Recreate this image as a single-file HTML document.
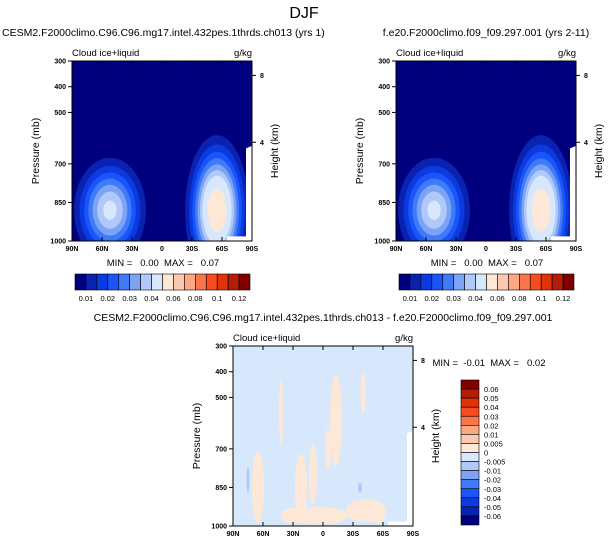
<!DOCTYPE html>
<html><head><meta charset="utf-8"><style>
body{margin:0;background:#fff}
svg{display:block;font-family:"Liberation Sans",sans-serif}
</style></head><body>
<svg id="chart" width="608" height="547" viewBox="0 0 608 547">
<text x="304" y="18" font-size="16" text-anchor="middle">DJF</text>
</svg>
<script>
// ---- data ----
const absLevels=[0.01,0.015,0.02,0.025,0.03,0.035,0.04,0.05,0.06,0.07,0.08,0.09,0.1,0.11,0.12];
const absColors=['#00007f','#0a22b0','#0a3ae0','#1a55fa','#3f7af8','#7da3f5','#b1c8fa','#d8e8fc','#fde8d8','#fdc8b0','#fba883','#f97648','#f84c1f','#e23308','#b31d08','#800000'];
const absTickLabels=['0.01','0.02','0.03','0.04','0.06','0.08','0.1','0.12'];
const diffLevels=[-0.06,-0.05,-0.04,-0.03,-0.02,-0.01,-0.005,0,0.005,0.01,0.02,0.03,0.04,0.05,0.06];
const diffLabels=['-0.06','-0.05','-0.04','-0.03','-0.02','-0.01','-0.005','0','0.005','0.01','0.02','0.03','0.04','0.05','0.06'];
// cloud blobs (gaussian): lat, pressure, peak, sigma-lat, sigma-p
const blobLat=[52,-55];
const blobP=[880,880];
const blobPeak=[0.042,0.058];
const blobSigLat=[30,24];
const blobSigP=[170,220];
// difference patches: lat, p, half-lat, half-p, value
const dLat=[42,22,10,-13,-40,65,-43,5,-55,75,-37,30,-5];
const dP=[560,850,800,590,480,850,940,960,950,820,850,960,700];
const dHalfLat=[2,6,4,6,2.5,6,20,30,8,1.5,2,12,3];
const dHalfP=[130,130,120,180,80,140,45,35,40,50,20,30,80];
const dVal=[0.003,0.003,0.003,0.003,0.003,0.003,0.003,0.003,0.003,-0.007,-0.007,0.003,0.003];
const xTicks=[90,60,30,0,-30,-60,-90];
const xTickLabels=['90N','60N','30N','0','30S','60S','90S'];
const pTicks=[300,400,500,700,850,1000];
const hTicks=[8,4];
const hTickP=[356,616];

const NS='http://www.w3.org/2000/svg';
const svg=document.getElementById('chart');
function el(t,a,p){const e=document.createElementNS(NS,t);for(const k in a)e.setAttribute(k,a[k]);(p||svg).appendChild(e);return e;}
function colorFor(v,levels,colors){let i=0;while(i<levels.length&&v>=levels[i])i++;return colors[i];}

function panel(x0,y0,title,tx,anchor,kind,id){
  const W=180,H=180;
  const X=lat=>x0+(90-lat)/180*W;
  const Y=p=>y0+(p-300)/700*H;
  const g=el('g',{});
  
  
  const t=el('text',{x:tx,y:y0-25,'font-size':10.5,'text-anchor':anchor},g);t.textContent=title;
  
  const cp=el('clipPath',{id:'c'+id},g);el('rect',{x:x0,y:y0,width:W,height:H},cp);
  const f=el('g',{'clip-path':'url(#c'+id+')'},g);
  if(kind==='abs'){
    el('rect',{x:x0,y:y0,width:W,height:H,fill:absColors[0]},f);
    for(let b=0;b<blobLat.length;b++){
      for(let li=0;li<absLevels.length;li++){
        const L=absLevels[li];if(L>=blobPeak[b])break;
        const r=Math.sqrt(Math.log(blobPeak[b]/L));
        const e=el('ellipse',{cx:X(blobLat[b]),cy:Y(blobP[b]),rx:r*blobSigLat[b]/180*W,ry:r*blobSigP[b]/700*H,fill:absColors[li+1]},f);
        
      }
    }
  }else{
    el('rect',{x:x0,y:y0,width:W,height:H,fill:'#d8e8fc'},f);
    for(let i=0;i<dLat.length;i++){
      const e=el('ellipse',{cx:X(dLat[i]),cy:Y(dP[i]),rx:dHalfLat[i]/180*W,ry:dHalfP[i]/700*H,fill:colorFor(dVal[i],diffLevels,absColors)},f);
      
    }
  }
  // missing data mask
  el('polygon',{points:[[X(-65),Y(1000)],[X(-65),Y(982)],[X(-84),Y(982)],[X(-84),Y(640)],[X(-90),Y(630)],[X(-90),Y(1000)]].map(a=>a.join(',')).join(' '),fill:'#fff'},f);
  el('rect',{x:x0,y:y0,width:W,height:H,fill:'none',stroke:'#000','stroke-width':1},g);
  let s=el('text',{x:x0,y:y0-5,'font-size':9.5},g);s.textContent='Cloud ice+liquid';
  s=el('text',{x:x0+W,y:y0-5,'font-size':9.5,'text-anchor':'end'},g);s.textContent='g/kg';
  xTicks.forEach((v,i)=>{el('line',{x1:X(v),x2:X(v),y1:y0+H,y2:y0+H-4,stroke:'#000'},g);el('line',{x1:X(v),x2:X(v),y1:y0,y2:y0+4,stroke:'#000'},g);
    const tt=el('text',{x:X(v),y:y0+H+10,'font-size':7,'text-anchor':'middle','font-weight':'bold'},g);tt.textContent=xTickLabels[i];});
  pTicks.forEach(v=>{el('line',{x1:x0-4,x2:x0,y1:Y(v),y2:Y(v),stroke:'#000'},g);
    const tt=el('text',{x:x0-6,y:Y(v)+2.5,'font-size':7,'text-anchor':'end','font-weight':'bold'},g);tt.textContent=v;});
  hTicks.forEach((v,i)=>{el('line',{x1:x0+W,x2:x0+W+4,y1:Y(hTickP[i]),y2:Y(hTickP[i]),stroke:'#000'},g);
    const tt=el('text',{x:x0+W+8,y:Y(hTickP[i])+2.5,'font-size':7,'font-weight':'bold'},g);tt.textContent=v;});
  s=el('text',{x:0,y:0,'font-size':10.5,'text-anchor':'middle',transform:`translate(${x0-33},${y0+H/2}) rotate(-90)`},g);s.textContent='Pressure (mb)';
  
  s=el('text',{x:0,y:0,'font-size':10.5,'text-anchor':'middle',transform:`translate(${x0+W+26},${y0+H/2}) rotate(-90)`},g);s.textContent='Height (km)';
  
  return g;
}
function hbar(x0,y0,id){
  const g=el('g',{});
  
  const w=175/absColors.length;
  absColors.forEach((c,i)=>el('rect',{x:x0+i*w,y:y0,width:w,height:16,fill:c,stroke:'#000','stroke-width':0.6},g));
  absTickLabels.forEach((l,k)=>{const t=el('text',{x:x0+(2*k+1)*w,y:y0+27,'font-size':7.5,'text-anchor':'middle'},g);t.textContent=l;});
}
function mm(x,y,s,id){const t=el('text',{x:x,y:y,'font-size':9.5,'text-anchor':'middle',style:'white-space:pre'});t.textContent=s;}

panel(72,61,'CESM2.F2000climo.C96.C96.mg17.intel.432pes.1thrds.ch013 (yrs 1)',2,'start','abs','left-panel');
panel(396,61,'f.e20.F2000climo.f09_f09.297.001 (yrs 2-11)',486,'middle','abs','right-panel');
panel(233,346,'CESM2.F2000climo.C96.C96.mg17.intel.432pes.1thrds.ch013 - f.e20.F2000climo.f09_f09.297.001',323,'middle','diff','diff-panel');
mm(163,266,'MIN =   0.00  MAX =   0.07','left-minmax');
mm(487,266,'MIN =   0.00  MAX =   0.07','right-minmax');
mm(489,366,'MIN =  -0.01  MAX =   0.02','diff-minmax');
hbar(75,274,'left-colorbar');
hbar(399,274,'right-colorbar');
// vertical diff colorbar
(function(){
  const g=el('g',{});
  const cols=absColors.slice().reverse();const h=145/cols.length;
  cols.forEach((c,i)=>el('rect',{x:461,y:380+i*h,width:18,height:h,fill:c,stroke:'#000','stroke-width':0.6},g));
  diffLabels.slice().reverse().forEach((l,i)=>{const t=el('text',{x:484,y:380+(i+1)*h+3,'font-size':7.5},g);t.textContent=l;});
})();
</script>
</body></html>
